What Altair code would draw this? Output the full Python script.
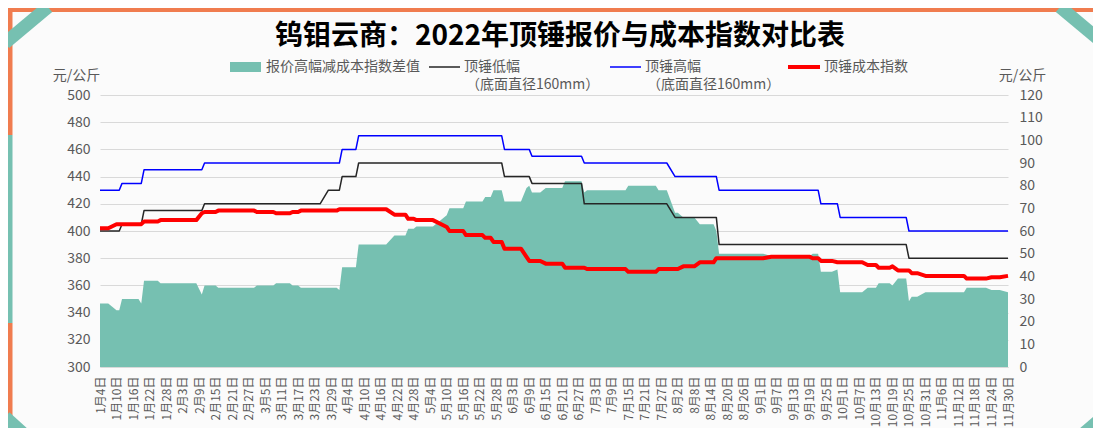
import altair as alt
import pandas as pd

TITLE = "钨钼云商：2022年顶锤报价与成本指数对比表"
UNIT = "元/公斤"

# ---- series data ----
LOW_DATES = ["2022/01/04", "2022/01/11", "2022/01/12", "2022/01/19", "2022/01/20", "2022/02/10",
             "2022/02/11", "2022/03/25", "2022/03/28", "2022/04/01", "2022/04/02", "2022/04/07",
             "2022/04/08", "2022/05/30", "2022/05/31", "2022/06/09", "2022/06/10", "2022/06/28",
             "2022/06/29", "2022/07/29", "2022/08/01", "2022/08/16", "2022/08/17", "2022/10/24",
             "2022/10/25", "2022/11/30"]
LOW_VALUES = [400, 400, 405, 405, 415, 415, 420, 420, 430, 430, 440, 440, 450, 450, 440, 440, 435,
              435, 420, 420, 410, 410, 390, 390, 380, 380]

HIGH_DATES = ["2022/01/04", "2022/01/11", "2022/01/12", "2022/01/19", "2022/01/20", "2022/02/10",
              "2022/02/11", "2022/04/01", "2022/04/02", "2022/04/07", "2022/04/08", "2022/05/30",
              "2022/05/31", "2022/06/09", "2022/06/10", "2022/06/28", "2022/06/29", "2022/07/29",
              "2022/08/01", "2022/08/16", "2022/08/17", "2022/09/22", "2022/09/23", "2022/09/29",
              "2022/09/30", "2022/10/24", "2022/10/25", "2022/11/30"]
HIGH_VALUES = [430, 430, 435, 435, 445, 445, 450, 450, 460, 460, 470, 470, 460, 460, 455, 455, 450,
               450, 440, 440, 430, 430, 420, 420, 410, 410, 400, 400]

COST_DATES = ["2022/01/04", "2022/01/07", "2022/01/10", "2022/01/19", "2022/01/20", "2022/01/25",
              "2022/01/26", "2022/02/08", "2022/02/10", "2022/02/11", "2022/02/15", "2022/02/16",
              "2022/03/01", "2022/03/02", "2022/03/08", "2022/03/09", "2022/03/14", "2022/03/15",
              "2022/03/17", "2022/03/18", "2022/03/31", "2022/04/01", "2022/04/18", "2022/04/21",
              "2022/04/25", "2022/04/26", "2022/04/28", "2022/04/29", "2022/05/05", "2022/05/10",
              "2022/05/11", "2022/05/16", "2022/05/17", "2022/05/23", "2022/05/24", "2022/05/26",
              "2022/05/27", "2022/05/30", "2022/05/31", "2022/06/06", "2022/06/08", "2022/06/09",
              "2022/06/13", "2022/06/15", "2022/06/21", "2022/06/22", "2022/06/29", "2022/06/30",
              "2022/07/14", "2022/07/15", "2022/07/25", "2022/07/26", "2022/08/02", "2022/08/04",
              "2022/08/08", "2022/08/10", "2022/08/15", "2022/08/16", "2022/09/02", "2022/09/05",
              "2022/09/19", "2022/09/20", "2022/09/22", "2022/09/23", "2022/09/27", "2022/09/29",
              "2022/10/08", "2022/10/10", "2022/10/13", "2022/10/14", "2022/10/18", "2022/10/19",
              "2022/10/21", "2022/10/25", "2022/10/26", "2022/10/28", "2022/10/31", "2022/11/14",
              "2022/11/15", "2022/11/22", "2022/11/24", "2022/11/27", "2022/11/30"]
COST_VALUES = [402, 402, 405, 405, 407, 407, 408, 408, 413, 414, 414, 415, 415, 414, 414, 413, 413,
               414, 414, 415, 415, 416, 416, 412, 412, 409, 409, 408, 408, 403, 400, 400, 397, 397,
               395, 395, 392, 392, 387, 387, 381, 378, 378, 376, 376, 373, 373, 372, 372, 370, 370,
               372, 372, 374, 374, 377, 377, 380, 380, 381, 381, 380, 380, 378, 378, 377, 377, 375,
               375, 373, 373, 374, 371, 371, 369, 369, 367, 367, 365, 365, 366, 366, 367]

DIFF_DATES = ["2022/01/04", "2022/01/07", "2022/01/10", "2022/01/11", "2022/01/12", "2022/01/18",
              "2022/01/19", "2022/01/20", "2022/01/25", "2022/01/26", "2022/02/08", "2022/02/10",
              "2022/02/11", "2022/02/15", "2022/02/16", "2022/03/01", "2022/03/02", "2022/03/08",
              "2022/03/09", "2022/03/14", "2022/03/15", "2022/03/17", "2022/03/18", "2022/03/31",
              "2022/04/01", "2022/04/02", "2022/04/07", "2022/04/08", "2022/04/18", "2022/04/21",
              "2022/04/25", "2022/04/26", "2022/04/28", "2022/04/29", "2022/05/05", "2022/05/10",
              "2022/05/11", "2022/05/16", "2022/05/17", "2022/05/23", "2022/05/24", "2022/05/26",
              "2022/05/27", "2022/05/30", "2022/05/31", "2022/06/06", "2022/06/08", "2022/06/09",
              "2022/06/10", "2022/06/13", "2022/06/15", "2022/06/21", "2022/06/22", "2022/06/28",
              "2022/06/29", "2022/06/30", "2022/07/14", "2022/07/15", "2022/07/25", "2022/07/26",
              "2022/07/29", "2022/08/01", "2022/08/02", "2022/08/04", "2022/08/08", "2022/08/10",
              "2022/08/15", "2022/08/16", "2022/08/17", "2022/09/02", "2022/09/05", "2022/09/19",
              "2022/09/20", "2022/09/22", "2022/09/23", "2022/09/27", "2022/09/29", "2022/09/30",
              "2022/10/08", "2022/10/10", "2022/10/13", "2022/10/14", "2022/10/18", "2022/10/19",
              "2022/10/21", "2022/10/24", "2022/10/25", "2022/10/26", "2022/10/28", "2022/10/31",
              "2022/11/14", "2022/11/15", "2022/11/22", "2022/11/24", "2022/11/27", "2022/11/30"]
DIFF_VALUES = [28, 28, 25, 25, 30, 30, 28, 38, 38, 37, 37, 32, 36, 36, 35, 35, 36, 36, 37, 37, 36,
               36, 35, 35, 34, 44, 44, 54, 54, 58, 58, 61, 61, 62, 62, 67, 70, 70, 73, 73, 75, 75,
               78, 78, 73, 73, 79, 80, 77, 77, 79, 79, 82, 82, 77, 78, 78, 80, 80, 78, 78, 68, 68,
               66, 66, 63, 63, 60, 50, 50, 49, 49, 50, 50, 42, 42, 43, 33, 33, 35, 35, 37, 37, 36,
               39, 39, 29, 31, 31, 33, 33, 35, 35, 34, 34, 33]

LEFT_TICKS = [300, 320, 340, 360, 380, 400, 420, 440, 460, 480, 500]
RIGHT_TICKS = [0, 10, 20, 30, 40, 50, 60, 70, 80, 90, 100, 110, 120]
X_TICKS = list(pd.date_range("2022-01-04", "2022-11-30", freq="6D"))

LEGEND_DIFF = "报价高幅减成本指数差值"
LEGEND_LOW = "顶锤低幅"
LEGEND_HIGH = "顶锤高幅"
LEGEND_SUB = "（底面直径160mm）"
LEGEND_COST = "顶锤成本指数"

# ---- styling ----
FONT = "Noto Sans CJK SC"
GREY = "#595959"
TEAL = "#76c0b1"
ORANGE = "#f07c4f"
W, H = 908, 272

x_enc = alt.X(
    "date:T",
    scale=alt.Scale(domain=[alt.DateTime(year=2022, month=1, date=4),
                            alt.DateTime(year=2022, month=11, date=30)], nice=False),
    axis=alt.Axis(
        values=[alt.DateTime(year=d.year, month=d.month, date=d.day) for d in X_TICKS],
        labelExpr="(month(datum.value)+1) + '月' + date(datum.value) + '日'",
        labelAngle=270, labelFontSize=12, labelColor=GREY, labelPadding=9,
        labelOverlap=False, labelFlush=False, ticks=False, grid=False,
        domain=True, domainColor="#d9d9d9", title=None,
    ),
)

diff_df = pd.DataFrame({"date": DIFF_DATES, "value": DIFF_VALUES})
area = alt.Chart(diff_df).mark_area(color=TEAL, opacity=1, interpolate="linear").encode(
    x=x_enc,
    y=alt.Y("value:Q", scale=alt.Scale(domain=[0, 120], nice=False, zero=True),
            axis=alt.Axis(orient="right", values=RIGHT_TICKS, grid=False, domain=False, ticks=False,
                          labelFontSize=14, labelColor=GREY, labelPadding=11,
                          title=UNIT, titleAngle=0, titleX=14, titleY=-20, titleAlign="center",
                          titleBaseline="middle", titleFontSize=14, titleFontWeight="normal",
                          titleColor=GREY)),
)

y_left = alt.Y("value:Q", scale=alt.Scale(domain=[300, 500], nice=False, zero=False),
               axis=alt.Axis(orient="left", values=LEFT_TICKS, grid=True, gridColor="#d9d9d9",
                             domain=False, ticks=False, labelFontSize=14, labelColor=GREY,
                             labelPadding=10, title=UNIT, titleAngle=0, titleX=-24, titleY=-20,
                             titleAlign="center", titleBaseline="middle", titleFontSize=14,
                             titleFontWeight="normal", titleColor=GREY))


def line(dates, values, color, width):
    df = pd.DataFrame({"date": dates, "value": values})
    return alt.Chart(df).mark_line(color=color, strokeWidth=width, interpolate="linear",
                                   strokeJoin="round").encode(x=x_enc, y=y_left)


lines = alt.layer(
    line(LOW_DATES, LOW_VALUES, "#262626", 1.5),
    line(HIGH_DATES, HIGH_VALUES, "#0000ff", 1.5),
    line(COST_DATES, COST_VALUES, "#ff0000", 4),
)

one = pd.DataFrame({"k": [0]})


def seg(x1, y1, x2, y2, color, w):
    return alt.Chart(one).mark_rule(color=color, strokeWidth=w, strokeCap="butt").encode(
        x=alt.value(x1), y=alt.value(y1), x2=alt.value(x2), y2=alt.value(y2))


def txt(s, x, y, size=14, color=GREY, weight="normal", align="left"):
    return alt.Chart(one).mark_text(text=s, fontSize=size, color=color, fontWeight=weight,
                                    align=align, baseline="middle", font=FONT).encode(
        x=alt.value(x), y=alt.value(y))


# frame decoration (plot-relative pixels)
decor = [
    seg(-92, -85, 1003, -85, ORANGE, 4),
    seg(-90, -87, -90, 40, ORANGE, 5),
    seg(-90, 40, -90, 228, TEAL, 5),
    seg(-90, 228, -90, 360, ORANGE, 5),
    seg(-95, -52, -52, -88, TEAL, 13),
    seg(960, -88, 1003, -52, TEAL, 13),
    seg(-95, 322, -62, 352, TEAL, 13),
    seg(968, 352, 1003, 322, TEAL, 13),
]

legend = [
    alt.Chart(one).mark_rect(color=TEAL).encode(x=alt.value(130), x2=alt.value(161),
                                                y=alt.value(-33), y2=alt.value(-23)),
    txt(LEGEND_DIFF, 166, -28),
    seg(329, -28, 360, -28, "#262626", 1.5),
    txt(LEGEND_LOW, 364, -28),
    txt(LEGEND_SUB, 366, -10),
    seg(510, -28, 541, -28, "#0000ff", 1.5),
    txt(LEGEND_HIGH, 545, -28),
    txt(LEGEND_SUB, 547, -10),
    seg(688, -28, 720, -28, "#ff0000", 4),
    txt(LEGEND_COST, 724, -28),
    txt(TITLE, 460, -58, size=28, color="#000000", weight="bold", align="center"),
]

chart = alt.layer(area, lines, *decor, *legend).resolve_scale(y="independent").properties(
    width=W, height=H,
    autosize=alt.AutoSizeParams(type="none"),
    padding={"left": 92, "top": 87, "right": 85, "bottom": 61},
    background="#fbfbfb",
).configure(font=FONT).configure_view(stroke=None)

chart.save("out.html", embed_options={"renderer": "svg", "actions": False})
